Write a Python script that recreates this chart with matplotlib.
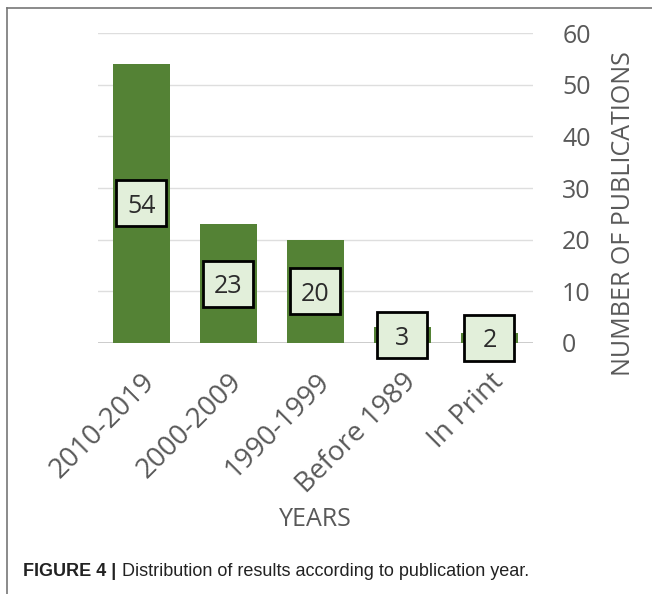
import matplotlib.pyplot as plt
from matplotlib.patches import Rectangle
from matplotlib.lines import Line2D
import matplotlib.transforms as mtransforms

periods = ['2010-2019', '2000-2009', '1990-1999', 'Before 1989', 'In Print']
publications = [54, 23, 20, 3, 2]
yticks = [0, 10, 20, 30, 40, 50, 60]

GREEN = '#548235'
BOX_FILL = '#E2EFDA'
GREY_TXT = '#595959'

plt.rcParams['font.family'] = ['Open Sans', 'DejaVu Sans']

fig = plt.figure(figsize=(6.52, 5.94), dpi=100)
ax = fig.add_axes([0.150, 0.4226, 0.6675, 0.5218])

xs = range(len(periods))
ax.bar(xs, publications, width=0.66, color=GREEN, zorder=2)

ax.set_xlim(-0.5, len(periods) - 0.5)
ax.set_ylim(0, 60)
ax.set_yticks(yticks)
ax.yaxis.tick_right()
ax.yaxis.set_label_position('right')
ax.tick_params(axis='y', length=0, pad=21, labelsize=18, labelcolor=GREY_TXT)
ax.tick_params(axis='x', length=0, pad=18, labelsize=20, labelcolor=GREY_TXT)
ax.set_xticks(list(xs))
ax.set_xticklabels(periods, rotation=45, ha='right', va='top',
                   rotation_mode='anchor')
for spine in ax.spines.values():
    spine.set_visible(False)
ax.grid(axis='y', color='#DEDEDE', linewidth=1.0, zorder=0)
ax.axhline(0, color='#C8C8C8', linewidth=1.4, zorder=1)

ax.set_ylabel('NUMBER OF PUBLICATIONS', fontsize=18, color=GREY_TXT,
              rotation=90, va='center')
ax.yaxis.set_label_coords(1.207, 0.416)
ax.set_xlabel('YEARS', fontsize=18, color=GREY_TXT, va='center')
ax.xaxis.set_label_coords(0.5, -0.568)

# value boxes sit at the middle of each bar, fixed size in inches
for x, v in zip(xs, publications):
    off = mtransforms.ScaledTranslation(x, v / 2, ax.transData)
    tr = fig.dpi_scale_trans + off
    ax.add_patch(Rectangle((-0.25, -0.23), 0.50, 0.46, transform=tr,
                           facecolor=BOX_FILL, edgecolor='black',
                           linewidth=2, zorder=3, clip_on=False))
    ax.text(x, v / 2, str(v), ha='center', va='center_baseline',
            fontsize=18, color='#2b2b2b', zorder=4)

# frame lines on top and left
fig.add_artist(Line2D([0.011, 1.0], [1 - 8 / 594, 1 - 8 / 594],
                      transform=fig.transFigure, color='#777777', lw=1.2))
fig.add_artist(Line2D([0.011, 0.011], [0.0, 1 - 8 / 594],
                      transform=fig.transFigure, color='#777777', lw=1.2))

cap_font = ['Liberation Sans', 'DejaVu Sans']
head = fig.text(23 / 652, 1 - 576 / 594, 'FIGURE 4 |', fontsize=13,
                fontweight='bold', family=cap_font, color='#222222',
                va='baseline')
ax.annotate('Distribution of results according to publication year.',
            xy=(1, 0), xycoords=head, xytext=(4, 0),
            textcoords='offset points', va='bottom', ha='left',
            fontsize=13, family=cap_font, color='#222222',
            annotation_clip=False)

fig.savefig('out.png', dpi=100)
